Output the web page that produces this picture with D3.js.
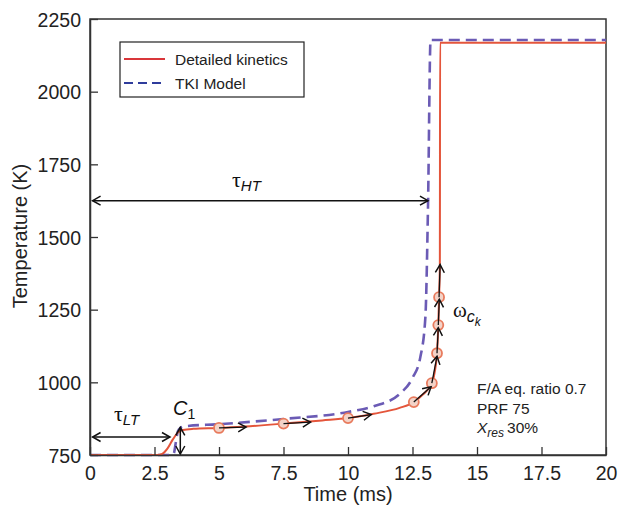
<!DOCTYPE html>
<html>
<head>
<meta charset="utf-8">
<script src="https://cdn.jsdelivr.net/npm/d3@7"></script>
<style>
  html, body { margin: 0; padding: 0; background: #fff; }
  svg { display: block; font-family: "Liberation Sans", Arial, sans-serif; }
</style>
</head>
<body>
<svg id="chart" width="619" height="508"></svg>
<script>
// Detailed kinetics temperature trace (ms, K)
const kineticsTime = [0, 2.6, 2.8, 3.0, 3.2, 3.4, 3.6, 4.0, 5.0, 6.0, 7.5, 9.0, 10.0, 11.0, 12.0, 12.55, 12.9, 13.25, 13.38, 13.45, 13.5, 13.53, 13.56, 13.57, 20];
const kineticsTemp = [750, 750, 754, 772, 802, 827, 836, 840, 843, 848, 858, 869, 877, 892, 912, 932, 958, 997, 1045, 1100, 1197, 1293, 1400, 2168, 2168];

// TKI model temperature trace (ms, K)
const tkiTime = [0, 3.15, 3.25, 3.32, 3.4, 3.5, 3.7, 5.0, 7.5, 10.0, 11.0, 12.0, 12.5, 12.8, 13.0, 13.1, 13.2, 20];
const tkiTemp = [750, 750, 756, 790, 830, 843, 849, 856, 874, 898, 918, 960, 1015, 1085, 1225, 1600, 2178, 2178];

// Marked states on the detailed kinetics trace
const markTime = [5.0, 7.5, 10.0, 12.55, 13.25, 13.45, 13.5, 13.53];
const markTemp = [843, 858, 877, 932, 997, 1100, 1197, 1293];

// Direction arrows leaving each marked state
const stepEndTime = [6.05, 8.55, 10.9, 13.22, 13.45, 13.5, 13.54, 13.57];
const stepEndTemp = [846, 863, 889, 985, 1090, 1188, 1286, 1405];

// Axis ticks
const timeTicks = [0, 2.5, 5, 7.5, 10, 12.5, 15, 17.5, 20];
const tempTicks = [750, 1000, 1250, 1500, 1750, 2000, 2250];

// Annotated intervals
const tauHT = { t0: 0.1, t1: 13.1, temp: 1625 };
const tauLT = { t0: 0.1, t1: 3.1, temp: 812 };
const c1 = { time: 3.5, temp0: 750, temp1: 845 };

const svg = d3.select("#chart");
const margin = { left: 90, right: 13, top: 19, bottom: 53 };
const W = 619, H = 508;

const x = d3.scaleLinear().domain([0, 20]).range([margin.left, W - margin.right]);
const y = d3.scaleLinear().domain([750, 2250]).range([H - margin.bottom, margin.top]);

const axisColor = "#333";
const redLine = "#e4553b";
const blueLine = "#6b5bb5";

// arrowhead marker (open chevron)
const defs = svg.append("defs");
defs.append("marker")
  .attr("id", "chev")
  .attr("markerUnits", "userSpaceOnUse")
  .attr("viewBox", "-10 -6 12 12")
  .attr("refX", 0).attr("refY", 0)
  .attr("markerWidth", 12).attr("markerHeight", 12)
  .attr("orient", "auto-start-reverse")
  .append("path")
  .attr("d", "M-8,-4.5 L0,0 L-8,4.5")
  .attr("fill", "none")
  .attr("stroke", "#111")
  .attr("stroke-width", 1.5);

const plot = svg.append("g");

// frame
plot.append("rect")
  .attr("x", x(0)).attr("y", y(2250))
  .attr("width", x(20) - x(0)).attr("height", y(750) - y(2250))
  .attr("fill", "#fff").attr("stroke", axisColor).attr("stroke-width", 1.5);

// axes with inward ticks
const xAxis = d3.axisBottom(x).tickValues(timeTicks).tickSizeInner(-8).tickSizeOuter(0).tickPadding(11)
  .tickFormat(d => d3.format("")(d));
const yAxis = d3.axisLeft(y).tickValues(tempTicks).tickSizeInner(-8).tickSizeOuter(0).tickPadding(9)
  .tickFormat(d => d);

const gx = svg.append("g").attr("transform", `translate(0,${y(750)})`).call(xAxis);
const gy = svg.append("g").attr("transform", `translate(${x(0)},0)`).call(yAxis);
[gx, gy].forEach(g => {
  g.select(".domain").attr("stroke", axisColor).attr("stroke-width", 1.5);
  g.selectAll(".tick line").attr("stroke", axisColor).attr("stroke-width", 1.3);
  g.selectAll(".tick text").attr("fill", "#222").style("font-size", "19.5px")
    .style("font-family", "'Liberation Sans', Arial, sans-serif");
});
gx.selectAll(".tick text").attr("dy", "0.71em");
gy.selectAll(".tick text").attr("dy", "0.36em");

// axis titles
svg.append("text")
  .attr("x", x(10)).attr("y", 501)
  .attr("text-anchor", "middle").attr("fill", "#222")
  .style("font-size", "20px").text("Time (ms)");
svg.append("text")
  .attr("transform", `translate(27,236) rotate(-90)`)
  .attr("text-anchor", "middle").attr("fill", "#222")
  .style("font-size", "20px").text("Temperature (K)");

const line = d3.line().x(d => x(d[0])).y(d => y(d[1])).curve(d3.curveMonotoneX);

// TKI model
plot.append("path")
  .datum(tkiTime.map((t, i) => [t, tkiTemp[i]]))
  .attr("d", line)
  .attr("fill", "none").attr("stroke", blueLine).attr("stroke-width", 2.6)
  .attr("stroke-dasharray", "11,6");

// Detailed kinetics
plot.append("path")
  .datum(kineticsTime.map((t, i) => [t, kineticsTemp[i]]))
  .attr("d", line)
  .attr("fill", "none").attr("stroke", redLine).attr("stroke-width", 2);

// marked states
plot.selectAll("circle.mark")
  .data(markTime.map((t, i) => [t, markTemp[i]]))
  .join("circle").attr("class", "mark")
  .attr("cx", d => x(d[0])).attr("cy", d => y(d[1])).attr("r", 5)
  .attr("fill", "#f3d3c8").attr("stroke", "#e87a5c").attr("stroke-width", 1.8);

// direction arrows
plot.selectAll("line.step")
  .data(markTime.map((t, i) => ({ t0: t, T0: markTemp[i], t1: stepEndTime[i], T1: stepEndTemp[i] })))
  .join("line").attr("class", "step")
  .attr("x1", d => x(d.t0)).attr("y1", d => y(d.T0))
  .attr("x2", d => x(d.t1)).attr("y2", d => y(d.T1))
  .attr("stroke", "#111").attr("stroke-width", 1.3)
  .attr("marker-end", "url(#chev)");

// interval arrows
function dbl(x1, y1, x2, y2) {
  plot.append("line")
    .attr("x1", x1).attr("y1", y1).attr("x2", x2).attr("y2", y2)
    .attr("stroke", "#111").attr("stroke-width", 1.5)
    .attr("marker-start", "url(#chev)").attr("marker-end", "url(#chev)");
}
dbl(x(tauHT.t0), y(tauHT.temp), x(tauHT.t1), y(tauHT.temp));
dbl(x(tauLT.t0), y(tauLT.temp), x(tauLT.t1), y(tauLT.temp));
dbl(x(c1.time), y(c1.temp1), x(c1.time), y(c1.temp0) - 1);

// labels
const serif = "'Liberation Serif', 'DejaVu Serif', serif";
const tHT = svg.append("text").attr("x", 232).attr("y", 187).attr("fill", "#111");
tHT.append("tspan").style("font-family", serif).style("font-size", "22px").text("τ");
tHT.append("tspan").attr("dy", 4).style("font-size", "15px").style("font-style", "italic").text("HT");

const tLT = svg.append("text").attr("x", 114).attr("y", 421).attr("fill", "#111");
tLT.append("tspan").style("font-family", serif).style("font-size", "22px").text("τ");
tLT.append("tspan").attr("dy", 4).style("font-size", "15px").style("font-style", "italic").text("LT");

const cLab = svg.append("text").attr("x", 173).attr("y", 415).attr("fill", "#111");
cLab.append("tspan").style("font-size", "20px").style("font-style", "italic").text("C");
cLab.append("tspan").attr("dy", 4).style("font-size", "14px").text("1");

const wLab = svg.append("text").attr("x", 453).attr("y", 317).attr("fill", "#111");
wLab.append("tspan").style("font-family", serif).style("font-size", "21px").text("ω");
wLab.append("tspan").attr("dy", 5).style("font-size", "16px").style("font-style", "italic").text("c");
wLab.append("tspan").attr("dy", 4).style("font-size", "12px").style("font-style", "italic").text("k");

// run conditions
const cond = svg.append("g").attr("fill", "#222").style("font-size", "15.5px");
cond.append("text").attr("x", 477).attr("y", 394).text("F/A eq. ratio 0.7");
cond.append("text").attr("x", 477).attr("y", 414).text("PRF 75");
const xr = cond.append("text").attr("x", 477).attr("y", 433);
xr.append("tspan").style("font-style", "italic").text("X");
xr.append("tspan").attr("dy", 4).style("font-style", "italic").style("font-size", "12px").text("res");
xr.append("tspan").attr("dy", -4).attr("dx", 3).text("30%");

// legend
const leg = svg.append("g");
leg.append("rect").attr("x", 120).attr("y", 42).attr("width", 184).attr("height", 55)
  .attr("fill", "#fff").attr("stroke", "#222").attr("stroke-width", 1.2);
leg.append("line").attr("x1", 124).attr("x2", 165).attr("y1", 59).attr("y2", 59)
  .attr("stroke", "#d9363a").attr("stroke-width", 2.2);
leg.append("line").attr("x1", 124).attr("x2", 165).attr("y1", 83).attr("y2", 83)
  .attr("stroke", "#2f3c9c").attr("stroke-width", 2.2).attr("stroke-dasharray", "9,5");
leg.append("text").attr("x", 175).attr("y", 64.5).attr("fill", "#222").style("font-size", "15.5px").text("Detailed kinetics");
leg.append("text").attr("x", 175).attr("y", 88.5).attr("fill", "#222").style("font-size", "15.5px").text("TKI Model");
</script>
</body>
</html>
